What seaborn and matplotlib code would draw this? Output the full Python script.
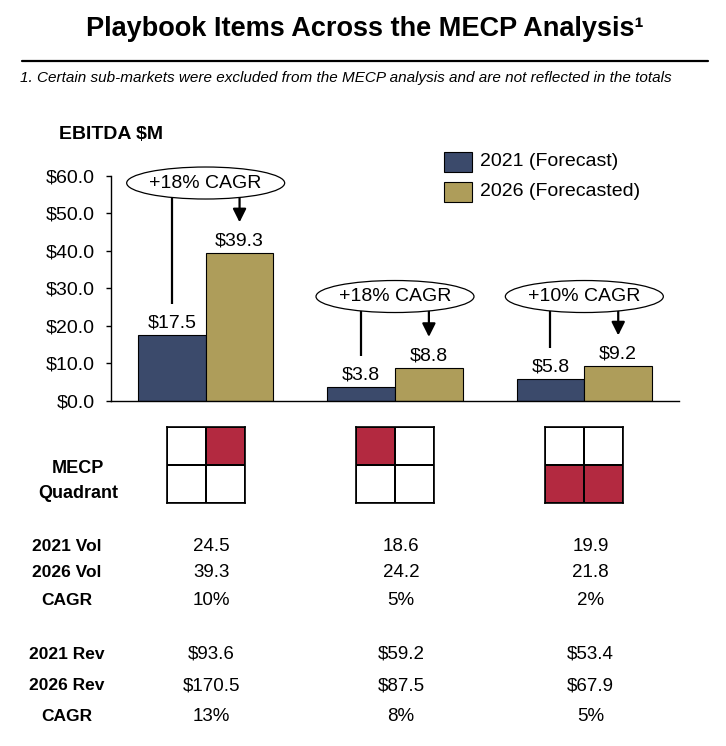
import matplotlib
matplotlib.use("Agg")
import matplotlib.pyplot as plt
import seaborn as sns
import pandas as pd
import numpy as np
from matplotlib.patches import Ellipse, Rectangle
from matplotlib.lines import Line2D
from matplotlib.colors import ListedColormap

# ---------------- data ----------------
items = ["Item 1", "Item 2", "Item 3"]
series = ["2021 (Forecast)", "2026 (Forecasted)"]
ebitda_2021 = [17.5, 3.8, 5.8]
ebitda_2026 = [39.3, 8.8, 9.2]
cagr_labels = ["+18% CAGR", "+18% CAGR", "+10% CAGR"]
yticks = [0, 10, 20, 30, 40, 50, 60]

quadrants = [
    [[0, 1], [0, 0]],
    [[1, 0], [0, 0]],
    [[0, 0], [1, 1]],
]

row_labels = ["2021 Vol", "2026 Vol", "CAGR", "2021 Rev", "2026 Rev", "CAGR"]
vol_2021 = [24.5, 18.6, 19.9]
vol_2026 = [39.3, 24.2, 21.8]
vol_cagr = [10, 5, 2]
rev_2021 = [93.6, 59.2, 53.4]
rev_2026 = [170.5, 87.5, 67.9]
rev_cagr = [13, 8, 5]

# ---------------- style ----------------
NAVY = "#3B4A6B"
GOLD = "#AE9D5A"
RED = "#B32940"

sns.set_theme(style="white")
plt.rcParams["font.family"] = ["Liberation Sans", "DejaVu Sans"]
plt.rcParams["text.color"] = "black"
plt.rcParams["axes.labelcolor"] = "black"
plt.rcParams["xtick.color"] = "black"
plt.rcParams["ytick.color"] = "black"

W, H = 726, 746
fig = plt.figure(figsize=(W / 100, H / 100), dpi=100)
fig.patch.set_facecolor("white")


def fx(px):
    return px / W


def fy(py):
    return 1 - py / H


# ---------------- header ----------------
fig.text(fx(365), fy(36), "Playbook Items Across the MECP Analysis\u00b9",
         ha="center", va="baseline", fontsize=19.5, fontweight="bold",
         color="black")
fig.add_artist(Line2D([fx(22), fx(708)], [fy(61), fy(61)], lw=1.6, color="black"))
fig.text(fx(20), fy(82),
         "1. Certain sub-markets were excluded from the MECP analysis and are not reflected in the totals",
         ha="left", va="baseline", fontsize=11, style="italic", color="black")
fig.text(fx(59), fy(139), "EBITDA $M", ha="left", va="baseline",
         fontsize=14, fontweight="bold", color="black")

# ---------------- bar chart ----------------
AX_L, AX_R, AX_B, AX_T = 111, 679, 401, 175.5
ax = fig.add_axes([fx(AX_L), fy(AX_B), fx(AX_R) - fx(AX_L), fy(AX_T) - fy(AX_B)])
df = pd.DataFrame({
    "item": items * 2,
    "year": [series[0]] * len(items) + [series[1]] * len(items),
    "ebitda": ebitda_2021 + ebitda_2026,
})
sns.barplot(data=df, x="item", y="ebitda", hue="year", hue_order=series,
            palette=[NAVY, GOLD], width=0.716, gap=0, saturation=1,
            edgecolor="black", linewidth=0.8, errorbar=None, legend=False, ax=ax)
ax.set_xlim(-0.5, 2.5)
ax.set_ylim(0, 60)
ax.set_yticks(yticks)
ax.set_yticklabels([f"${v:.1f}" for v in yticks])
ax.set_xticks([])
ax.set_xlabel("")
ax.set_ylabel("")
ax.set_facecolor("white")
sns.despine(ax=ax)
for s in ("left", "bottom"):
    ax.spines[s].set_color("black")
    ax.spines[s].set_linewidth(1.0)
ax.tick_params(axis="y", left=True, length=3.6, width=1.0, color="black",
               pad=8, labelsize=14, labelcolor="black", direction="out")

for cont in ax.containers:
    ax.bar_label(cont, labels=[f"${v:.1f}" for v in cont.datavalues],
                 padding=2.5, fontsize=14, color="black")

px2data = 60 / (AX_B - AX_T)
ell_w = 158 / (AX_R - AX_L) * 3
ell_h = 32 * px2data
ell_y = [58.0, 27.8, 27.8]
gap_above = 31 * px2data

c21 = ax.containers[0].patches
c26 = ax.containers[1].patches
for i in range(len(items)):
    ey = ell_y[i]
    e = Ellipse((i, ey), ell_w, ell_h, facecolor="white", edgecolor="black",
                lw=0.9, clip_on=False, zorder=5)
    ax.add_patch(e)
    ax.text(i, ey, cagr_labels[i], ha="center", va="center", fontsize=14,
            zorder=6, clip_on=False, color="black")
    b1, b2 = c21[i], c26[i]
    x1 = b1.get_x() + b1.get_width() / 2
    x2 = b2.get_x() + b2.get_width() / 2
    a, b = ell_w / 2, ell_h / 2
    y1s = ey - b * np.sqrt(max(0.0, 1 - ((x1 - i) / a) ** 2))
    y2s = ey - b * np.sqrt(max(0.0, 1 - ((x2 - i) / a) ** 2))
    ax.plot([x1, x1], [y1s, b1.get_height() + gap_above], color="black",
            lw=1.6, clip_on=False, zorder=4, solid_capstyle="butt")
    ax.annotate("", xy=(x2, b2.get_height() + gap_above), xytext=(x2, y2s),
                arrowprops=dict(arrowstyle="-|>", color="black", lw=1.6,
                                mutation_scale=20, shrinkA=0, shrinkB=0),
                annotation_clip=False, zorder=4)

# legend (manual)
for k, (col, lab) in enumerate(zip([NAVY, GOLD], series)):
    top = 152 + 30 * k
    fig.add_artist(Rectangle((fx(444), fy(top + 20)), fx(472) - fx(444),
                             fy(top) - fy(top + 20), facecolor=col,
                             edgecolor="black", lw=0.8,
                             transform=fig.transFigure))
    fig.text(fx(480), fy(top + 10), lab, ha="left", va="center", fontsize=14,
             color="black")

# ---------------- quadrants ----------------
group_px = [AX_L + (i + 0.5) / 3 * (AX_R - AX_L) for i in range(len(items))]
cmap = ListedColormap(["white", RED])
for i, q in enumerate(quadrants):
    cx = group_px[i]
    hax = fig.add_axes([fx(cx - 39), fy(503), fx(78) - fx(0), fy(427) - fy(503)])
    sns.heatmap(np.array(q), ax=hax, cmap=cmap, vmin=0, vmax=1, cbar=False,
                linewidths=1.2, linecolor="black", xticklabels=False,
                yticklabels=False)
    for s in hax.spines.values():
        s.set_visible(True)
        s.set_color("black")
        s.set_linewidth(1.2)

fig.text(fx(78), fy(473), "MECP", ha="center", va="baseline", fontsize=13,
         fontweight="bold", color="black")
fig.text(fx(78), fy(498), "Quadrant", ha="center", va="baseline", fontsize=13,
         fontweight="bold", color="black")

# ---------------- table ----------------
row_values = [
    [f"{v:.1f}" for v in vol_2021],
    [f"{v:.1f}" for v in vol_2026],
    [f"{v}%" for v in vol_cagr],
    [f"${v:.1f}" for v in rev_2021],
    [f"${v:.1f}" for v in rev_2026],
    [f"{v}%" for v in rev_cagr],
]
row_base = [551, 577, 605, 659, 690, 721]
for lab, vals, yb in zip(row_labels, row_values, row_base):
    fig.text(fx(67), fy(yb), lab, ha="center", va="baseline", fontsize=12.5,
             fontweight="bold", color="black")
    for i, v in enumerate(vals):
        fig.text(fx(group_px[i] + 6), fy(yb), v, ha="center", va="baseline",
                 fontsize=13.5, color="black")

fig.savefig("out.png", dpi=100, facecolor="white")
